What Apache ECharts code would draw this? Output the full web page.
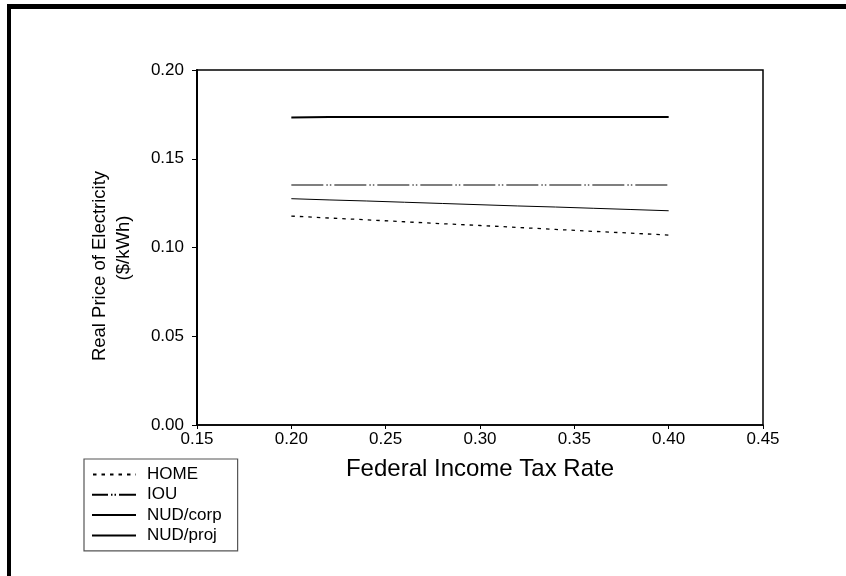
<!DOCTYPE html>
<html>
<head>
<meta charset="utf-8">
<script src="https://cdn.jsdelivr.net/npm/echarts@6/dist/echarts.min.js"></script>
<style>
  html, body { margin: 0; padding: 0; background: #fff; }
  #chart { width: 846px; height: 576px; }
</style>
</head>
<body>
<div id="chart"></div>
<script>
// Federal income tax rate (x) and real electricity price in $/kWh for each ownership type
const taxRates = [0.20, 0.22, 0.24, 0.26, 0.28, 0.30, 0.32, 0.34, 0.36, 0.38, 0.40];
const homePrice = [0.1177, 0.1166, 0.1156, 0.1145, 0.1134, 0.1124, 0.1113, 0.1102, 0.1091, 0.1081, 0.1070];
const iouPrice = [0.1352, 0.1352, 0.1352, 0.1352, 0.1352, 0.1352, 0.1352, 0.1352, 0.1352, 0.1352, 0.1352];
const nudCorpPrice = [0.1275, 0.1268, 0.1262, 0.1255, 0.1248, 0.1241, 0.1234, 0.1228, 0.1221, 0.1214, 0.1207];
const nudProjPrice = [0.1732, 0.1735, 0.1735, 0.1735, 0.1735, 0.1735, 0.1735, 0.1735, 0.1735, 0.1735, 0.1735];

const xTicks = { min: 0.15, max: 0.45, step: 0.05 };
const yTicks = { min: 0.00, max: 0.20, step: 0.05 };

const FONT = "'Liberation Sans', Arial, Helvetica, sans-serif";

function pairs(xs, ys) {
  return xs.map((x, i) => [x, ys[i]]);
}

const chart = echarts.init(document.getElementById('chart'), null, { renderer: 'canvas' });

const seriesDefs = [
  { name: 'HOME', data: homePrice, width: 1.3, type: [3.5, 5] },
  { name: 'IOU', data: iouPrice, width: 1.2, type: [32, 3, 1.5, 2, 1.5, 3] },
  { name: 'NUD/corp', data: nudCorpPrice, width: 1, type: 'solid' },
  { name: 'NUD/proj', data: nudProjPrice, width: 2, type: 'solid' }
];

chart.setOption({
  animation: false,
  backgroundColor: '#fff',
  textStyle: { fontFamily: FONT, color: '#000' },
  grid: {
    left: 197, right: 83, top: 70, bottom: 151,
    show: true, borderColor: '#000', borderWidth: 1.5,
    containLabel: false
  },
  xAxis: {
    type: 'value',
    min: xTicks.min, max: xTicks.max, interval: xTicks.step,
    name: 'Federal Income Tax Rate',
    nameLocation: 'middle',
    nameGap: 32,
    nameTextStyle: { fontSize: 24, color: '#000', fontFamily: FONT, verticalAlign: 'top' },
    axisLine: { show: true, onZero: false, lineStyle: { color: '#000', width: 1.5 } },
    axisTick: { show: true, length: 4, lineStyle: { color: '#000', width: 1 } },
    axisLabel: {
      fontSize: 17, color: '#000', fontFamily: FONT, margin: 6,
      formatter: v => v.toFixed(2)
    },
    splitLine: { show: false }
  },
  yAxis: {
    type: 'value',
    min: yTicks.min, max: yTicks.max, interval: yTicks.step,
    axisLine: { show: true, onZero: false, lineStyle: { color: '#000', width: 2 } },
    axisTick: { show: true, length: 5, lineStyle: { color: '#000', width: 1 } },
    axisLabel: {
      fontSize: 17, color: '#000', fontFamily: FONT, margin: 13,
      formatter: v => v.toFixed(2)
    },
    splitLine: { show: false }
  },
  legend: {
    orient: 'vertical',
    left: 84, top: 459,
    padding: [7, 16, 7, 7],
    itemWidth: 44, itemHeight: 14, itemGap: 3.3,
    borderColor: '#555', borderWidth: 1.2,
    backgroundColor: '#fff',
    selectedMode: false,
    itemStyle: { opacity: 0 },
    lineStyle: { dashOffset: 16 },
    textStyle: { fontSize: 17, color: '#000', fontFamily: FONT, padding: [0, 0, 0, 6], lineHeight: 17 },
    data: seriesDefs.map(s => s.name)
  },
  graphic: [
    // outer frame bars along the top and left edges
    { type: 'rect', left: 7, top: 4, shape: { width: 839, height: 5 }, style: { fill: '#000' } },
    { type: 'rect', left: 7, top: 4, shape: { width: 4, height: 572 }, style: { fill: '#000' } },
    // y axis title, two lines
    {
      type: 'text', x: 100, y: 266, rotation: Math.PI / 2,
      style: { text: 'Real Price of Electricity', fontSize: 18.5, fontFamily: FONT, fill: '#000', align: 'center', verticalAlign: 'middle' }
    },
    {
      type: 'text', x: 124, y: 248, rotation: Math.PI / 2,
      style: { text: '($/kWh)', fontSize: 18.5, fontFamily: FONT, fill: '#000', align: 'center', verticalAlign: 'middle' }
    }
  ],
  series: seriesDefs.map(s => ({
    name: s.name,
    type: 'line',
    data: pairs(taxRates, s.data),
    symbol: 'none',
    lineStyle: { color: '#000', width: s.width, type: s.type },
    itemStyle: { color: '#000' },
    emphasis: { disabled: true }
  }))
});
</script>
</body>
</html>
